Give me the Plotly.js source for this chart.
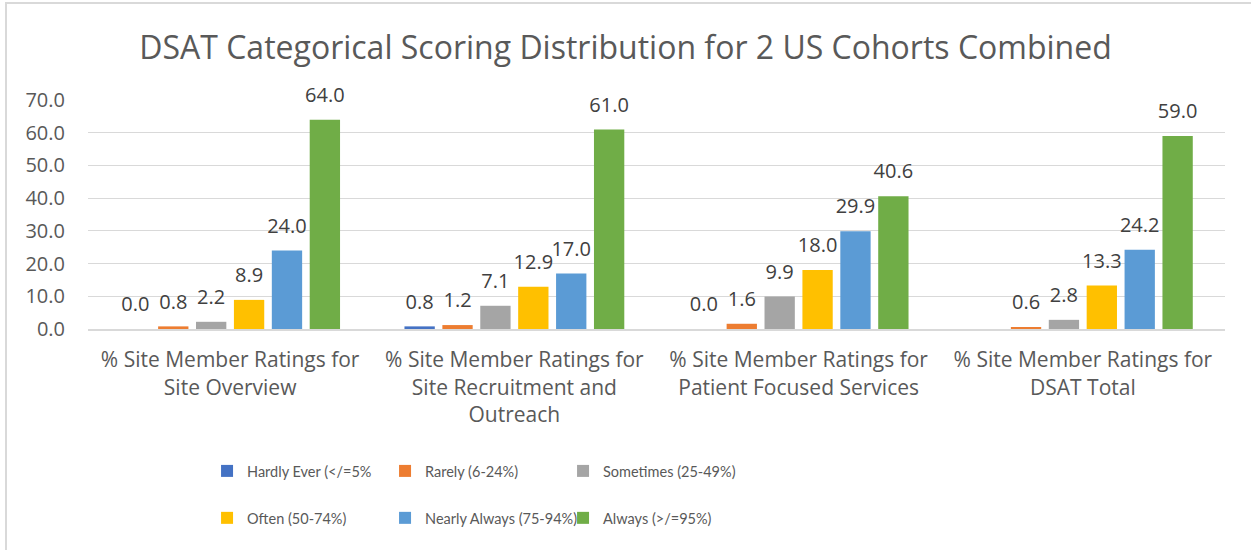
<!DOCTYPE html>
<html>
<head>
<meta charset="utf-8">
<script src="https://cdn.plot.ly/plotly-3.0.1.min.js"></script>
<style>
  html, body { margin: 0; padding: 0; background: #fff; }
  #wrap { position: relative; width: 1251px; height: 550px; overflow: hidden; }
  #chart { position: absolute; left: 0; top: 0; width: 1251px; height: 550px; }
  #frame { position: absolute; left: 5px; top: 2px; width: 1260px; height: 560px;
           border-left: 2px solid #d9d9d9; border-top: 2px solid #d9d9d9; pointer-events: none; }
</style>
</head>
<body>
<div id="wrap">
  <div id="chart"></div>
  <div id="frame"></div>
</div>
<script>
const categories = [
  "% Site Member Ratings for<br>Site Overview",
  "% Site Member Ratings for<br>Site Recruitment and<br>Outreach",
  "% Site Member Ratings for<br>Patient Focused Services",
  "% Site Member Ratings for<br>DSAT Total"
];
const seriesNames = [
  "Hardly Ever (</=5%",
  "Rarely (6-24%)",
  "Sometimes (25-49%)",
  "Often (50-74%)",
  "Nearly Always (75-94%)",
  "Always (>/=95%)"
];
const hardlyEver   = [0.0, 0.8, 0.0, null];
const rarely       = [0.8, 1.2, 1.6, 0.6];
const sometimes    = [2.2, 7.1, 9.9, 2.8];
const often        = [8.9, 12.9, 18.0, 13.3];
const nearlyAlways = [24.0, 17.0, 29.9, 24.2];
const always       = [64.0, 61.0, 40.6, 59.0];
const yTickVals = [0, 10, 20, 30, 40, 50, 60, 70];

const seriesValues = [hardlyEver, rarely, sometimes, often, nearlyAlways, always];
const colors = ["#4472C4", "#ED7D31", "#A5A5A5", "#FFC000", "#5B9BD5", "#70AD47"];

const barTraces = seriesValues.map((vals, i) => ({
  type: "bar",
  name: seriesNames[i],
  x: categories,
  y: vals,
  marker: { color: colors[i] },
  legend: i < 3 ? "legend" : "legend2",
  hoverinfo: "x+y+name"
}));

// data labels, grouped to sit over their bars
const labelTraces = seriesValues.map((vals, i) => ({
  type: "scatter",
  mode: "markers+text",
  name: seriesNames[i],
  x: categories,
  y: vals,
  text: vals.map(v => v === null ? "" : v.toFixed(1)),
  textposition: "top center",
  textfont: { family: "Open Sans", size: 20, color: "#404040" },
  marker: { size: 19, color: "rgba(0,0,0,0)" },
  cliponaxis: false,
  showlegend: false,
  hoverinfo: "skip"
}));

const legendFont = { family: "Lato", size: 14.5, color: "#595959" };

const layout = {
  width: 1251,
  height: 550,
  margin: { l: 88, r: 26, t: 100, b: 221 },
  paper_bgcolor: "#ffffff",
  plot_bgcolor: "#ffffff",
  barmode: "group",
  bargap: 0.2,
  bargroupgap: 0.2,
  scattermode: "group",
  scattergap: 0.2,
  title: {
    text: "DSAT Categorical Scoring Distribution for 2 US Cohorts Combined",
    font: { family: "Open Sans", size: 32, color: "#595959" },
    x: 0.5, xanchor: "center",
    y: 0.914, yanchor: "middle", yref: "container"
  },
  xaxis: {
    type: "category",
    tickfont: { family: "Open Sans", size: 21, color: "#595959" },
    showgrid: false,
    showline: true,
    linecolor: "#d9d9d9",
    linewidth: 2,
    ticks: "",
    ticklabelstandoff: 11,
    automargin: false
  },
  yaxis: {
    range: [0, 70],
    tickvals: yTickVals,
    ticktext: yTickVals.map(v => v.toFixed(1)),
    tickfont: { family: "Open Sans", size: 20, color: "#595959" },
    showgrid: true,
    gridcolor: "#d9d9d9",
    gridwidth: 1,
    zeroline: false,
    showline: false,
    ticks: "",
    ticklabelstandoff: 22,
    automargin: false
  },
  legend: {
    orientation: "h",
    x: 0.1047, xanchor: "left",
    y: -0.62, yanchor: "middle",
    entrywidth: 133, entrywidthmode: "pixels",
    font: legendFont,
    itemclick: false, itemdoubleclick: false
  },
  legend2: {
    orientation: "h",
    x: 0.1047, xanchor: "left",
    y: -0.825, yanchor: "middle",
    entrywidth: 133, entrywidthmode: "pixels",
    font: legendFont,
    itemclick: false, itemdoubleclick: false
  },
  showlegend: true
};

Plotly.newPlot("chart", barTraces.concat(labelTraces), layout, { displayModeBar: false, responsive: false });
</script>
</body>
</html>
